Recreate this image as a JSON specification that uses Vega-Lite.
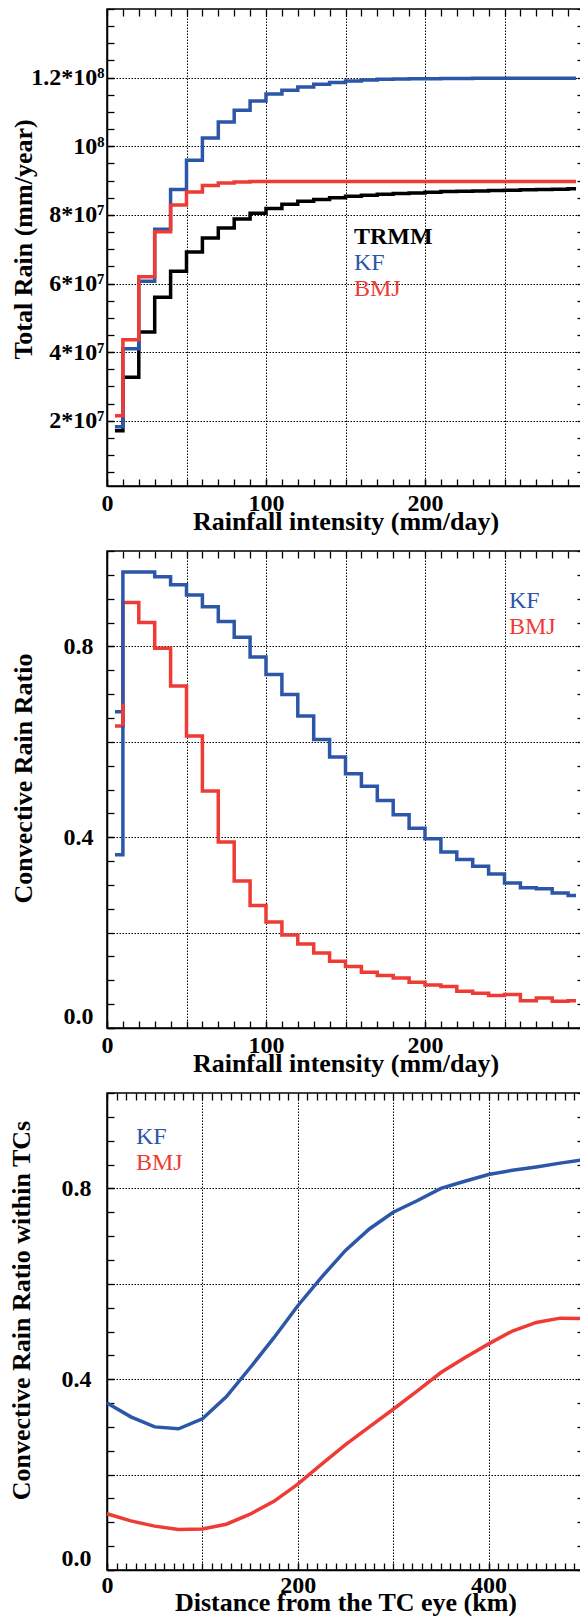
{
  "$schema": "https://vega.github.io/schema/vega-lite/v6.json",
  "padding": {"left": 7, "top": 7, "right": 0, "bottom": 0},
  "spacing": 13,
  "background": "white",
  "config": {
    "font": "Liberation Serif",
    "view": {"stroke": "#000", "strokeWidth": 1.5},
    "axis": {
      "labelFont": "Liberation Serif", "labelFontSize": 24, "labelFontWeight": "bold", "labelColor": "#000",
      "titleFont": "Liberation Serif", "titleFontSize": 26, "titleFontWeight": "bold", "titleColor": "#000",
      "tickColor": "#000", "tickWidth": 1.3, "tickSize": -7,
      "domainColor": "#000", "domainWidth": 1.5,
      "gridColor": "#000", "gridDash": [1.5, 1.5], "gridWidth": 1,
      "labelFlush": false, "labelOverlap": false, "labelBound": false
    },
    "legend": {
      "labelFont": "Liberation Serif", "labelFontSize": 24, "labelLimit": 300,
      "symbolSize": 0, "symbolStrokeWidth": 0, "symbolOpacity": 0, "labelOffset": 0, "padding": 0, "rowPadding": 2
    }
  },
  "resolve": {"scale": {"color": "independent"}},
  "datasets": {
    "p1": [
      {"x": 5, "v": 17100000, "s": "TRMM"}, {"x": 15, "v": 32700000, "s": "TRMM"}, {"x": 25, "v": 45900000, "s": "TRMM"}, {"x": 35, "v": 56000000, "s": "TRMM"}, {"x": 45, "v": 63600000, "s": "TRMM"}, {"x": 55, "v": 69200000, "s": "TRMM"}, {"x": 65, "v": 73300000, "s": "TRMM"}, {"x": 75, "v": 76200000, "s": "TRMM"}, {"x": 85, "v": 78800000, "s": "TRMM"}, {"x": 95, "v": 80500000, "s": "TRMM"}, {"x": 105, "v": 81900000, "s": "TRMM"}, {"x": 115, "v": 83100000, "s": "TRMM"}, {"x": 125, "v": 84000000, "s": "TRMM"}, {"x": 135, "v": 84500000, "s": "TRMM"}, {"x": 145, "v": 85000000, "s": "TRMM"}, {"x": 155, "v": 85400000, "s": "TRMM"}, {"x": 165, "v": 85700000, "s": "TRMM"}, {"x": 175, "v": 86000000, "s": "TRMM"}, {"x": 185, "v": 86200000, "s": "TRMM"}, {"x": 195, "v": 86400000, "s": "TRMM"}, {"x": 205, "v": 86600000, "s": "TRMM"}, {"x": 215, "v": 86800000, "s": "TRMM"}, {"x": 225, "v": 86900000, "s": "TRMM"}, {"x": 235, "v": 87000000, "s": "TRMM"}, {"x": 245, "v": 87100000, "s": "TRMM"}, {"x": 255, "v": 87200000, "s": "TRMM"}, {"x": 265, "v": 87300000, "s": "TRMM"}, {"x": 275, "v": 87400000, "s": "TRMM"}, {"x": 285, "v": 87500000, "s": "TRMM"}, {"x": 295, "v": 87600000, "s": "TRMM"},
      {"x": 5, "v": 18300000, "s": "KF"}, {"x": 15, "v": 41000000, "s": "KF"}, {"x": 25, "v": 60700000, "s": "KF"}, {"x": 35, "v": 75800000, "s": "KF"}, {"x": 45, "v": 87400000, "s": "KF"}, {"x": 55, "v": 95900000, "s": "KF"}, {"x": 65, "v": 102400000, "s": "KF"}, {"x": 75, "v": 107100000, "s": "KF"}, {"x": 85, "v": 110500000, "s": "KF"}, {"x": 95, "v": 113200000, "s": "KF"}, {"x": 105, "v": 115200000, "s": "KF"}, {"x": 115, "v": 116300000, "s": "KF"}, {"x": 125, "v": 117300000, "s": "KF"}, {"x": 135, "v": 118100000, "s": "KF"}, {"x": 145, "v": 118600000, "s": "KF"}, {"x": 155, "v": 119000000, "s": "KF"}, {"x": 165, "v": 119300000, "s": "KF"}, {"x": 175, "v": 119500000, "s": "KF"}, {"x": 185, "v": 119600000, "s": "KF"}, {"x": 195, "v": 119700000, "s": "KF"}, {"x": 205, "v": 119700000, "s": "KF"}, {"x": 215, "v": 119750000, "s": "KF"}, {"x": 225, "v": 119750000, "s": "KF"}, {"x": 235, "v": 119800000, "s": "KF"}, {"x": 245, "v": 119800000, "s": "KF"}, {"x": 255, "v": 119800000, "s": "KF"}, {"x": 265, "v": 119800000, "s": "KF"}, {"x": 275, "v": 119800000, "s": "KF"}, {"x": 285, "v": 119800000, "s": "KF"}, {"x": 295, "v": 119800000, "s": "KF"},
      {"x": 5, "v": 21500000, "s": "BMJ"}, {"x": 15, "v": 43600000, "s": "BMJ"}, {"x": 25, "v": 62000000, "s": "BMJ"}, {"x": 35, "v": 75100000, "s": "BMJ"}, {"x": 45, "v": 82900000, "s": "BMJ"}, {"x": 55, "v": 86700000, "s": "BMJ"}, {"x": 65, "v": 88600000, "s": "BMJ"}, {"x": 75, "v": 89300000, "s": "BMJ"}, {"x": 85, "v": 89600000, "s": "BMJ"}, {"x": 95, "v": 89700000, "s": "BMJ"}, {"x": 105, "v": 89700000, "s": "BMJ"}, {"x": 115, "v": 89700000, "s": "BMJ"}, {"x": 125, "v": 89700000, "s": "BMJ"}, {"x": 135, "v": 89700000, "s": "BMJ"}, {"x": 145, "v": 89700000, "s": "BMJ"}, {"x": 155, "v": 89700000, "s": "BMJ"}, {"x": 165, "v": 89700000, "s": "BMJ"}, {"x": 175, "v": 89700000, "s": "BMJ"}, {"x": 185, "v": 89700000, "s": "BMJ"}, {"x": 195, "v": 89700000, "s": "BMJ"}, {"x": 205, "v": 89700000, "s": "BMJ"}, {"x": 215, "v": 89700000, "s": "BMJ"}, {"x": 225, "v": 89700000, "s": "BMJ"}, {"x": 235, "v": 89700000, "s": "BMJ"}, {"x": 245, "v": 89700000, "s": "BMJ"}, {"x": 255, "v": 89700000, "s": "BMJ"}, {"x": 265, "v": 89700000, "s": "BMJ"}, {"x": 275, "v": 89700000, "s": "BMJ"}, {"x": 285, "v": 89700000, "s": "BMJ"}, {"x": 295, "v": 89700000, "s": "BMJ"}
    ],
    "p2": [
      {"x": 5, "v": 0.633, "s": "BMJ", "p": "m"}, {"x": 15, "v": 0.892, "s": "BMJ", "p": "m"}, {"x": 25, "v": 0.85, "s": "BMJ", "p": "m"}, {"x": 35, "v": 0.796, "s": "BMJ", "p": "m"}, {"x": 45, "v": 0.717, "s": "BMJ", "p": "m"}, {"x": 55, "v": 0.612, "s": "BMJ", "p": "m"}, {"x": 65, "v": 0.497, "s": "BMJ", "p": "m"}, {"x": 75, "v": 0.39, "s": "BMJ", "p": "m"}, {"x": 85, "v": 0.308, "s": "BMJ", "p": "m"}, {"x": 95, "v": 0.257, "s": "BMJ", "p": "m"}, {"x": 105, "v": 0.222, "s": "BMJ", "p": "m"}, {"x": 115, "v": 0.195, "s": "BMJ", "p": "m"}, {"x": 125, "v": 0.176, "s": "BMJ", "p": "m"}, {"x": 135, "v": 0.157, "s": "BMJ", "p": "m"}, {"x": 145, "v": 0.14, "s": "BMJ", "p": "m"}, {"x": 155, "v": 0.129, "s": "BMJ", "p": "m"}, {"x": 165, "v": 0.117, "s": "BMJ", "p": "m"}, {"x": 175, "v": 0.11, "s": "BMJ", "p": "m"}, {"x": 185, "v": 0.105, "s": "BMJ", "p": "m"}, {"x": 195, "v": 0.096, "s": "BMJ", "p": "m"}, {"x": 205, "v": 0.09, "s": "BMJ", "p": "m"}, {"x": 215, "v": 0.087, "s": "BMJ", "p": "m"}, {"x": 225, "v": 0.077, "s": "BMJ", "p": "m"}, {"x": 235, "v": 0.073, "s": "BMJ", "p": "m"}, {"x": 245, "v": 0.068, "s": "BMJ", "p": "m"}, {"x": 255, "v": 0.07, "s": "BMJ", "p": "m"}, {"x": 265, "v": 0.057, "s": "BMJ", "p": "m"}, {"x": 275, "v": 0.063, "s": "BMJ", "p": "m"}, {"x": 285, "v": 0.056, "s": "BMJ", "p": "m"}, {"x": 295, "v": 0.057, "s": "BMJ", "p": "m"},
      {"x": 5, "v": 0.363, "s": "KF", "p": "m"}, {"x": 15, "v": 0.956, "s": "KF", "p": "m"}, {"x": 25, "v": 0.956, "s": "KF", "p": "m"}, {"x": 35, "v": 0.946, "s": "KF", "p": "m"}, {"x": 45, "v": 0.929, "s": "KF", "p": "m"}, {"x": 55, "v": 0.908, "s": "KF", "p": "m"}, {"x": 65, "v": 0.883, "s": "KF", "p": "m"}, {"x": 75, "v": 0.852, "s": "KF", "p": "m"}, {"x": 85, "v": 0.819, "s": "KF", "p": "m"}, {"x": 95, "v": 0.778, "s": "KF", "p": "m"}, {"x": 105, "v": 0.741, "s": "KF", "p": "m"}, {"x": 115, "v": 0.699, "s": "KF", "p": "m"}, {"x": 125, "v": 0.654, "s": "KF", "p": "m"}, {"x": 135, "v": 0.605, "s": "KF", "p": "m"}, {"x": 145, "v": 0.568, "s": "KF", "p": "m"}, {"x": 155, "v": 0.533, "s": "KF", "p": "m"}, {"x": 165, "v": 0.507, "s": "KF", "p": "m"}, {"x": 175, "v": 0.477, "s": "KF", "p": "m"}, {"x": 185, "v": 0.447, "s": "KF", "p": "m"}, {"x": 195, "v": 0.419, "s": "KF", "p": "m"}, {"x": 205, "v": 0.397, "s": "KF", "p": "m"}, {"x": 215, "v": 0.369, "s": "KF", "p": "m"}, {"x": 225, "v": 0.353, "s": "KF", "p": "m"}, {"x": 235, "v": 0.339, "s": "KF", "p": "m"}, {"x": 245, "v": 0.323, "s": "KF", "p": "m"}, {"x": 255, "v": 0.304, "s": "KF", "p": "m"}, {"x": 265, "v": 0.294, "s": "KF", "p": "m"}, {"x": 275, "v": 0.292, "s": "KF", "p": "m"}, {"x": 285, "v": 0.283, "s": "KF", "p": "m"}, {"x": 295, "v": 0.278, "s": "KF", "p": "m"},
      {"x": 5, "v": 0.663, "s": "KF", "p": "a"}, {"x": 10, "v": 0.663, "s": "KF", "p": "a"},
      {"x": 10, "v": 0.633, "s": "BMJ", "p": "a"}, {"x": 10, "v": 0.68, "s": "BMJ", "p": "a"}
    ],
    "p3": [
      {"x": 0, "v": 0.35, "s": "KF"}, {"x": 25, "v": 0.321, "s": "KF"}, {"x": 50, "v": 0.3, "s": "KF"}, {"x": 75, "v": 0.296, "s": "KF"}, {"x": 100, "v": 0.317, "s": "KF"}, {"x": 125, "v": 0.363, "s": "KF"}, {"x": 150, "v": 0.424, "s": "KF"}, {"x": 175, "v": 0.487, "s": "KF"}, {"x": 200, "v": 0.554, "s": "KF"}, {"x": 225, "v": 0.614, "s": "KF"}, {"x": 250, "v": 0.67, "s": "KF"}, {"x": 275, "v": 0.715, "s": "KF"}, {"x": 300, "v": 0.75, "s": "KF"}, {"x": 325, "v": 0.774, "s": "KF"}, {"x": 350, "v": 0.8, "s": "KF"}, {"x": 375, "v": 0.815, "s": "KF"}, {"x": 400, "v": 0.829, "s": "KF"}, {"x": 425, "v": 0.838, "s": "KF"}, {"x": 450, "v": 0.845, "s": "KF"}, {"x": 475, "v": 0.853, "s": "KF"}, {"x": 500, "v": 0.86, "s": "KF"},
      {"x": 0, "v": 0.118, "s": "BMJ"}, {"x": 25, "v": 0.103, "s": "BMJ"}, {"x": 50, "v": 0.092, "s": "BMJ"}, {"x": 75, "v": 0.085, "s": "BMJ"}, {"x": 100, "v": 0.086, "s": "BMJ"}, {"x": 125, "v": 0.096, "s": "BMJ"}, {"x": 150, "v": 0.117, "s": "BMJ"}, {"x": 175, "v": 0.144, "s": "BMJ"}, {"x": 200, "v": 0.18, "s": "BMJ"}, {"x": 225, "v": 0.222, "s": "BMJ"}, {"x": 250, "v": 0.263, "s": "BMJ"}, {"x": 275, "v": 0.3, "s": "BMJ"}, {"x": 300, "v": 0.337, "s": "BMJ"}, {"x": 325, "v": 0.375, "s": "BMJ"}, {"x": 350, "v": 0.414, "s": "BMJ"}, {"x": 375, "v": 0.445, "s": "BMJ"}, {"x": 400, "v": 0.474, "s": "BMJ"}, {"x": 425, "v": 0.501, "s": "BMJ"}, {"x": 450, "v": 0.519, "s": "BMJ"}, {"x": 475, "v": 0.528, "s": "BMJ"}, {"x": 500, "v": 0.527, "s": "BMJ"}
    ]
  },
  "vconcat": [
    {
      "width": 477, "height": 477,
      "data": {"name": "p1"},
      "resolve": {"axis": {"x": "independent", "y": "independent"}},
      "layer": [
        {
          "mark": {"type": "line", "interpolate": "step", "strokeWidth": 3.5},
          "encoding": {
            "x": {"field": "x", "type": "quantitative", "scale": {"domain": [0, 300], "nice": false, "zero": false},
              "axis": {"orient": "bottom", "grid": false, "values": [0, 100, 200], "format": "d", "labelPadding": 12,
                "title": "Rainfall intensity (mm/day)", "titleY": 43.5, "titleBaseline": "alphabetic"}},
            "y": {"field": "v", "type": "quantitative", "scale": {"domain": [1000000, 140000000], "nice": false, "zero": false},
              "axis": {"orient": "left", "grid": false, "values": [20000000, 40000000, 60000000, 80000000, 100000000, 120000000],
                "labelExpr": "datum.value === 20000000 ? '2*10⁷' : datum.value === 40000000 ? '4*10⁷' : datum.value === 60000000 ? '6*10⁷' : datum.value === 80000000 ? '8*10⁷' : datum.value === 100000000 ? '10⁸' : '1.2*10⁸'",
                "labelPadding": 10, "title": "Total Rain (mm/year)", "titleX": -84, "titleY": 230, "titleBaseline": "middle", "titleAlign": "center"}},
            "color": {"field": "s", "type": "nominal", "scale": {"domain": ["TRMM", "KF", "BMJ"], "range": ["#000000", "#2c57a8", "#ee3b35"]},
              "legend": {"orient": "none", "legendX": 223, "legendY": 216, "title": null,
                "labelColor": {"expr": "datum.value === 'KF' ? '#2c57a8' : datum.value === 'BMJ' ? '#ee3b35' : '#000000'"},
                "labelFontWeight": {"expr": "datum.value === 'TRMM' ? 'bold' : 'normal'"}}}
          }
        },
        {
          "mark": {"type": "line", "opacity": 0},
          "encoding": {
            "x": {"field": "x", "type": "quantitative", "axis": {"orient": "bottom", "values": [50, 100, 150, 200, 250], "grid": true, "ticks": false, "labels": false, "domain": false, "title": null}},
            "y": {"field": "v", "type": "quantitative", "axis": {"orient": "left", "values": [20000000, 40000000, 60000000, 80000000, 100000000, 120000000], "grid": true, "ticks": false, "labels": false, "domain": false, "title": null}}
          }
        },
        {
          "mark": {"type": "line", "opacity": 0},
          "encoding": {
            "x": {"field": "x", "type": "quantitative", "axis": {"orient": "top", "grid": false, "labels": false, "domain": false, "title": null, "values": [0,10,20,30,40,50,60,70,80,90,100,110,120,130,140,150,160,170,180,190,200,210,220,230,240,250,260,270,280,290,300]}},
            "y": {"field": "v", "type": "quantitative", "axis": {"orient": "right", "grid": false, "labels": false, "domain": false, "title": null, "values": [5000000,10000000,15000000,20000000,25000000,30000000,35000000,40000000,45000000,50000000,55000000,60000000,65000000,70000000,75000000,80000000,85000000,90000000,95000000,100000000,105000000,110000000,115000000,120000000,125000000,130000000,135000000,140000000]}}
          }
        },
        {
          "mark": {"type": "line", "opacity": 0},
          "encoding": {
            "x": {"field": "x", "type": "quantitative", "axis": {"orient": "bottom", "grid": false, "labels": false, "domain": false, "title": null, "values": [0,10,20,30,40,50,60,70,80,90,100,110,120,130,140,150,160,170,180,190,200,210,220,230,240,250,260,270,280,290,300]}},
            "y": {"field": "v", "type": "quantitative", "axis": {"orient": "left", "grid": false, "labels": false, "domain": false, "title": null, "values": [5000000,10000000,15000000,20000000,25000000,30000000,35000000,40000000,45000000,50000000,55000000,60000000,65000000,70000000,75000000,80000000,85000000,90000000,95000000,100000000,105000000,110000000,115000000,120000000,125000000,130000000,135000000,140000000]}}
          }
        }
      ]
    },
    {
      "width": 477, "height": 477,
      "data": {"name": "p2"},
      "resolve": {"axis": {"x": "independent", "y": "independent"}},
      "layer": [
        {
          "mark": {"type": "line", "interpolate": "step", "strokeWidth": 3.5},
          "encoding": {
            "x": {"field": "x", "type": "quantitative", "scale": {"domain": [0, 300], "nice": false, "zero": false},
              "axis": {"orient": "bottom", "grid": false, "values": [0, 100, 200], "format": "d", "labelPadding": 12,
                "title": "Rainfall intensity (mm/day)", "titleY": 43.5, "titleBaseline": "alphabetic"}},
            "y": {"field": "v", "type": "quantitative", "scale": {"domain": [0, 1], "nice": false, "zero": false},
              "axis": {"orient": "left", "grid": false, "values": [0, 0.4, 0.8], "format": ".1f", "labelFlush": true,
                "labelPadding": 21, "title": "Convective Rain Ratio", "titleX": -84, "titleY": 227, "titleBaseline": "middle", "titleAlign": "center"}},
            "detail": {"field": "p", "type": "nominal"},
            "color": {"field": "s", "type": "nominal", "scale": {"domain": ["KF", "BMJ"], "range": ["#2c57a8", "#ee3b35"]},
              "legend": {"orient": "none", "legendX": 378, "legendY": 38, "title": null,
                "labelColor": {"expr": "datum.value === 'KF' ? '#2c57a8' : '#ee3b35'"}}}
          }
        },
        {
          "mark": {"type": "line", "opacity": 0},
          "encoding": {
            "x": {"field": "x", "type": "quantitative", "axis": {"orient": "bottom", "values": [50, 100, 150, 200, 250], "grid": true, "ticks": false, "labels": false, "domain": false, "title": null}},
            "y": {"field": "v", "type": "quantitative", "axis": {"orient": "left", "values": [0.2, 0.4, 0.6, 0.8], "grid": true, "ticks": false, "labels": false, "domain": false, "title": null}}
          }
        },
        {
          "mark": {"type": "line", "opacity": 0},
          "encoding": {
            "x": {"field": "x", "type": "quantitative", "axis": {"orient": "top", "grid": false, "labels": false, "domain": false, "title": null, "values": [0,10,20,30,40,50,60,70,80,90,100,110,120,130,140,150,160,170,180,190,200,210,220,230,240,250,260,270,280,290,300]}},
            "y": {"field": "v", "type": "quantitative", "axis": {"orient": "right", "grid": false, "labels": false, "domain": false, "title": null, "values": [0,0.05,0.1,0.15,0.2,0.25,0.3,0.35,0.4,0.45,0.5,0.55,0.6,0.65,0.7,0.75,0.8,0.85,0.9,0.95,1]}}
          }
        },
        {
          "mark": {"type": "line", "opacity": 0},
          "encoding": {
            "x": {"field": "x", "type": "quantitative", "axis": {"orient": "bottom", "grid": false, "labels": false, "domain": false, "title": null, "values": [0,10,20,30,40,50,60,70,80,90,100,110,120,130,140,150,160,170,180,190,200,210,220,230,240,250,260,270,280,290,300]}},
            "y": {"field": "v", "type": "quantitative", "axis": {"orient": "left", "grid": false, "labels": false, "domain": false, "title": null, "values": [0,0.05,0.1,0.15,0.2,0.25,0.3,0.35,0.4,0.45,0.5,0.55,0.6,0.65,0.7,0.75,0.8,0.85,0.9,0.95,1]}}
          }
        }
      ]
    },
    {
      "width": 477, "height": 477,
      "data": {"name": "p3"},
      "resolve": {"axis": {"x": "independent", "y": "independent"}},
      "layer": [
        {
          "mark": {"type": "line", "strokeWidth": 3.5},
          "encoding": {
            "x": {"field": "x", "type": "quantitative", "scale": {"domain": [0, 500], "nice": false, "zero": false},
              "axis": {"orient": "bottom", "grid": false, "values": [0, 200, 400], "format": "d", "labelPadding": 10,
                "title": "Distance from the TC eye (km)", "titleY": 40, "titleBaseline": "alphabetic"}},
            "y": {"field": "v", "type": "quantitative", "scale": {"domain": [0, 1], "nice": false, "zero": false},
              "axis": {"orient": "left", "grid": false, "values": [0, 0.4, 0.8], "format": ".1f", "labelFlush": true,
                "labelPadding": 23, "title": "Convective Rain Ratio within TCs", "titleX": -86, "titleY": 217, "titleBaseline": "middle", "titleAlign": "center"}},
            "color": {"field": "s", "type": "nominal", "scale": {"domain": ["KF", "BMJ"], "range": ["#2c57a8", "#ee3b35"]},
              "legend": {"orient": "none", "legendX": 5, "legendY": 32, "title": null,
                "labelColor": {"expr": "datum.value === 'KF' ? '#2c57a8' : '#ee3b35'"}}}
          }
        },
        {
          "mark": {"type": "line", "opacity": 0},
          "encoding": {
            "x": {"field": "x", "type": "quantitative", "axis": {"orient": "bottom", "values": [100, 200, 300, 400], "grid": true, "ticks": false, "labels": false, "domain": false, "title": null}},
            "y": {"field": "v", "type": "quantitative", "axis": {"orient": "left", "values": [0.2, 0.4, 0.6, 0.8], "grid": true, "ticks": false, "labels": false, "domain": false, "title": null}}
          }
        },
        {
          "mark": {"type": "line", "opacity": 0},
          "encoding": {
            "x": {"field": "x", "type": "quantitative", "axis": {"orient": "top", "grid": false, "labels": false, "domain": false, "title": null, "values": [0,10,20,30,40,50,60,70,80,90,100,110,120,130,140,150,160,170,180,190,200,210,220,230,240,250,260,270,280,290,300,310,320,330,340,350,360,370,380,390,400,410,420,430,440,450,460,470,480,490,500]}},
            "y": {"field": "v", "type": "quantitative", "axis": {"orient": "right", "grid": false, "labels": false, "domain": false, "title": null, "values": [0,0.05,0.1,0.15,0.2,0.25,0.3,0.35,0.4,0.45,0.5,0.55,0.6,0.65,0.7,0.75,0.8,0.85,0.9,0.95,1]}}
          }
        },
        {
          "mark": {"type": "line", "opacity": 0},
          "encoding": {
            "x": {"field": "x", "type": "quantitative", "axis": {"orient": "bottom", "grid": false, "labels": false, "domain": false, "title": null, "values": [0,10,20,30,40,50,60,70,80,90,100,110,120,130,140,150,160,170,180,190,200,210,220,230,240,250,260,270,280,290,300,310,320,330,340,350,360,370,380,390,400,410,420,430,440,450,460,470,480,490,500]}},
            "y": {"field": "v", "type": "quantitative", "axis": {"orient": "left", "grid": false, "labels": false, "domain": false, "title": null, "values": [0,0.05,0.1,0.15,0.2,0.25,0.3,0.35,0.4,0.45,0.5,0.55,0.6,0.65,0.7,0.75,0.8,0.85,0.9,0.95,1]}}
          }
        }
      ]
    }
  ]
}
